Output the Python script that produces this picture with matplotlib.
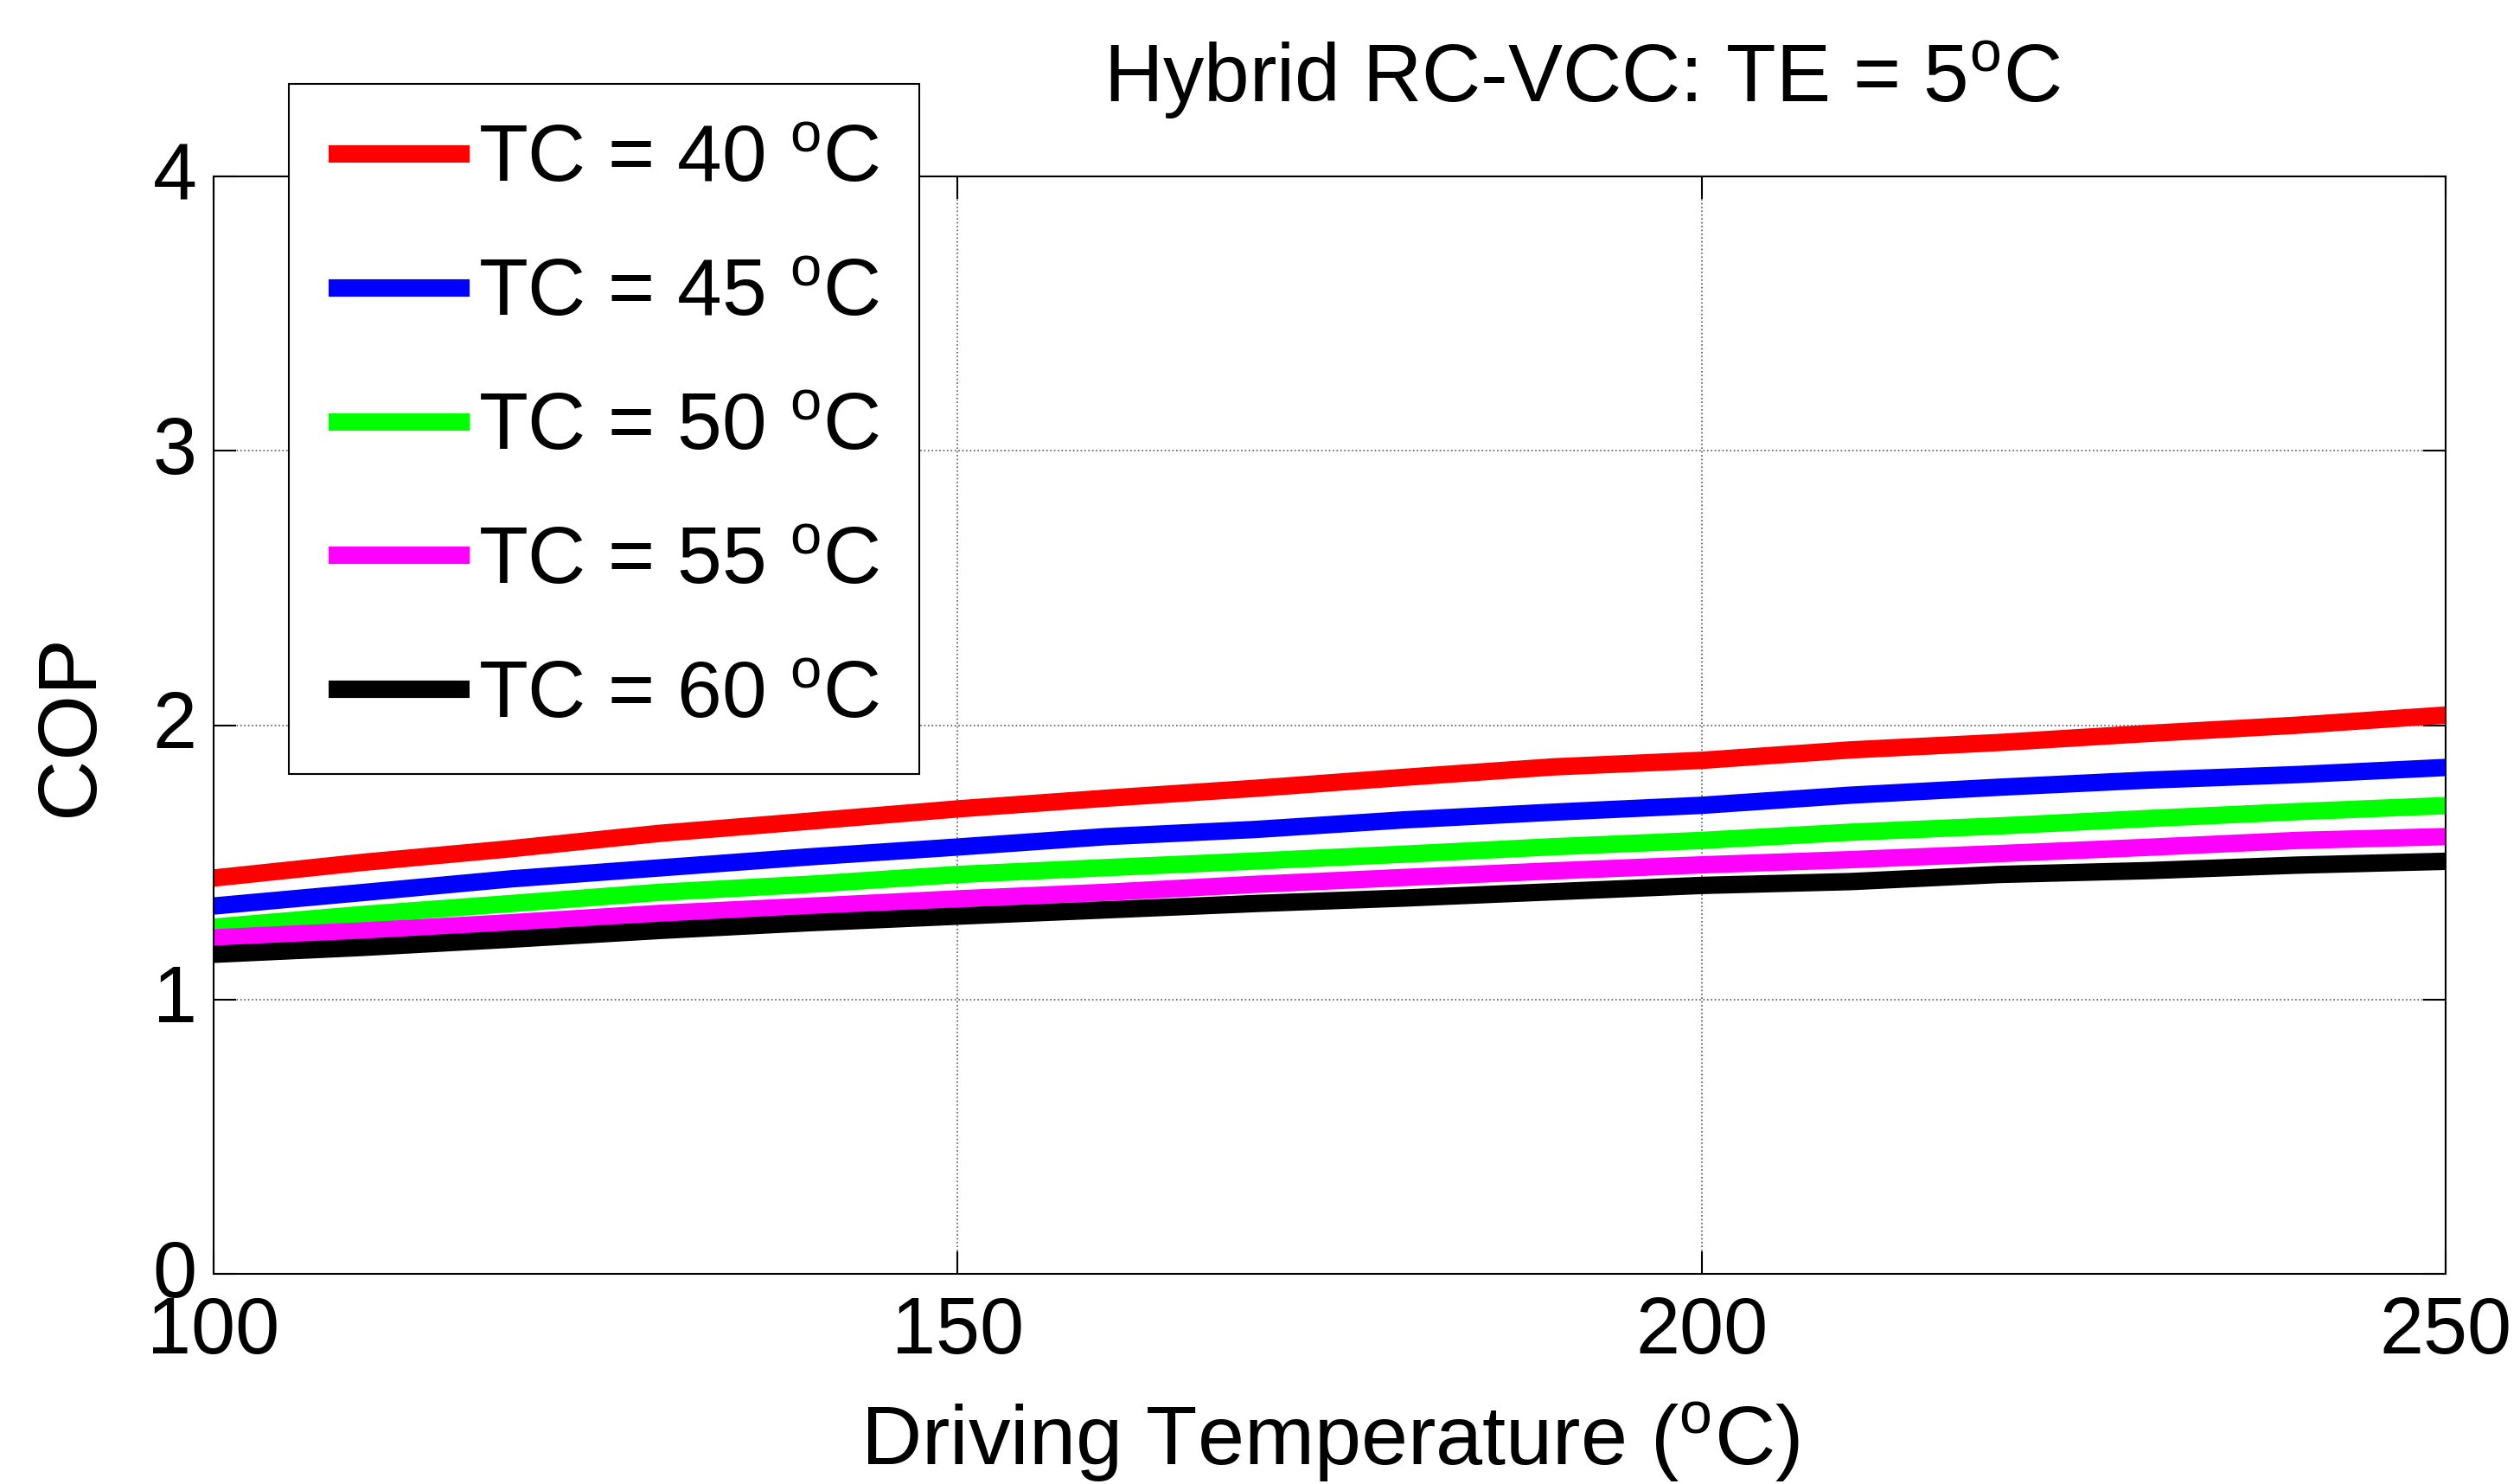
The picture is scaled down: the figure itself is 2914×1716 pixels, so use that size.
import matplotlib
matplotlib.use('Agg')
import matplotlib.pyplot as plt
import matplotlib.transforms as mtransforms
import numpy as np

# driving temperature (C) and COP for each condenser temperature
drive_temp = [100, 110, 120, 130, 140, 150, 160, 170, 180, 190, 200, 210, 220, 230, 240, 250]
cop_tc40 = [1.443, 1.50, 1.55, 1.606, 1.65, 1.695, 1.734, 1.77, 1.81, 1.848, 1.872, 1.91, 1.937, 1.97, 2.00, 2.037]
cop_tc45 = [1.341, 1.39, 1.44, 1.480, 1.52, 1.556, 1.594, 1.62, 1.655, 1.683, 1.708, 1.745, 1.774, 1.80, 1.82, 1.846]
cop_tc50 = [1.264, 1.31, 1.35, 1.391, 1.42, 1.456, 1.481, 1.505, 1.53, 1.557, 1.580, 1.61, 1.633, 1.66, 1.685, 1.707]
cop_tc55 = [1.225, 1.25, 1.28, 1.314, 1.34, 1.367, 1.391, 1.42, 1.445, 1.469, 1.491, 1.51, 1.532, 1.555, 1.58, 1.594]
cop_tc60 = [1.165, 1.19, 1.22, 1.252, 1.28, 1.304, 1.327, 1.35, 1.37, 1.393, 1.416, 1.43, 1.456, 1.47, 1.49, 1.504]
tc_labels = ['40', '45', '50', '55', '60']
x_ticks = [100, 150, 200, 250]
y_ticks = [0, 1, 2, 3, 4]

plt.rcParams['font.family'] = ['Liberation Sans', 'DejaVu Sans']
plt.rcParams['mathtext.fontset'] = 'custom'
plt.rcParams['mathtext.rm'] = 'Liberation Sans'
plt.rcParams['mathtext.it'] = 'Liberation Sans'

deg = r'$^{\mathrm{o}}$'

fig = plt.figure(figsize=(29.14, 17.16), dpi=100)
ax = fig.add_axes([0.0848, 0.1416, 0.8857, 0.7394])

series = [cop_tc40, cop_tc45, cop_tc50, cop_tc55, cop_tc60]
colors = ['#ff0000', '#0000ff', '#00ff00', '#ff00ff', '#000000']
for vals, col, tc in zip(series, colors, tc_labels):
    ax.plot(drive_temp, vals, color=col, lw=14.5, solid_capstyle='butt',
            label='TC = ' + tc + ' ' + deg + 'C')

ax.set_xlim(100, 250)
ax.set_ylim(0, 4)
ax.set_xticks(x_ticks)
ax.set_yticks(y_ticks)
ax.tick_params(direction='in', length=19, width=1.5, labelsize=66,
               top=True, right=True, pad=14)
ax.tick_params(axis='x', pad=18)
ax.grid(True, linestyle=':', color='0.35', lw=1.2)
for sp in ax.spines.values():
    sp.set_linewidth(1.5)

# nudge the y tick labels up a little
lift = mtransforms.ScaledTranslation(0, 5 / 72, fig.dpi_scale_trans)
for lbl in ax.get_yticklabels():
    lbl.set_transform(lbl.get_transform() + lift)

ax.set_xlabel('Driving Temperature (' + deg + 'C)', fontsize=70, labelpad=26)
ax.set_ylabel('COP', fontsize=70, labelpad=36)

fig.text(0.628, 0.931, 'Hybrid RC-VCC: TE = 5' + deg + 'C', fontsize=68,
         ha='center', va='baseline')

leg = ax.legend(loc='upper left', bbox_to_anchor=(0.1146, 0.9435),
                bbox_transform=fig.transFigure, borderaxespad=0,
                fontsize=67, handlelength=1.75, handletextpad=0.1,
                labelspacing=0.74, borderpad=0.5, fancybox=False,
                framealpha=1, edgecolor='black')
leg.get_frame().set_linewidth(1.5)

fig.savefig('out.png', dpi=100)
